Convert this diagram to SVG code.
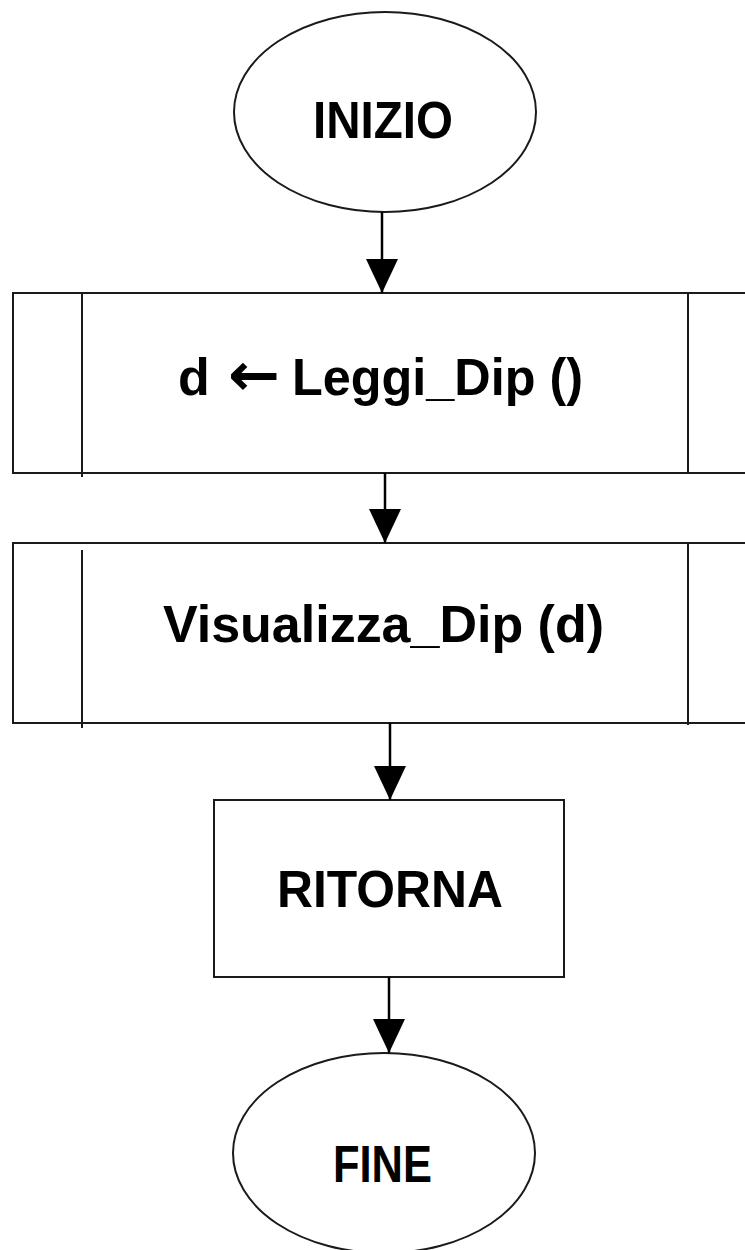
<svg xmlns="http://www.w3.org/2000/svg" width="745" height="1250" viewBox="0 0 745 1250">
<style>
.shape{fill:#fff;stroke:#1a1a1a;stroke-width:2}
.line{fill:none;stroke:#1a1a1a;stroke-width:2}
.lbl{font-family:"Liberation Sans",Arial,"DejaVu Sans",sans-serif;font-weight:bold;font-size:52px;fill:#000}
.sym{font-family:"DejaVu Sans",sans-serif;font-weight:bold;font-size:60px}
.conn{fill:none;stroke:#000;stroke-width:2.5}
</style>
<defs>
<marker id="arr" markerUnits="userSpaceOnUse" markerWidth="34" markerHeight="32" refX="34" refY="16" orient="auto">
<path d="M0,0 L34,16 L0,32 z" fill="#000"/>
</marker>
</defs>
<rect width="745" height="1250" fill="#fff"/>
<g id="inizio">
<ellipse class="shape" cx="385" cy="112" rx="151" ry="100"/>
<text class="lbl" x="313" y="138" textLength="140" lengthAdjust="spacingAndGlyphs">INIZIO</text>
</g>
<g id="leggi">
<rect class="shape" x="13" y="293" width="760" height="180"/>
<line class="line" x1="82" y1="293" x2="82" y2="477"/>
<line class="line" x1="688" y1="293" x2="688" y2="473"/>
<text class="lbl" x="178" y="395">d</text>
<text class="lbl sym" x="228" y="395" textLength="52" lengthAdjust="spacingAndGlyphs">←</text>
<text class="lbl" x="292" y="395" textLength="291" lengthAdjust="spacingAndGlyphs">Leggi_Dip ()</text>
</g>
<g id="visualizza">
<rect class="shape" x="13" y="543" width="760" height="180"/>
<line class="line" x1="82" y1="550" x2="82" y2="728"/>
<line class="line" x1="688" y1="543" x2="688" y2="725"/>
<text class="lbl" x="163" y="642" textLength="441" lengthAdjust="spacingAndGlyphs">Visualizza_Dip (d)</text>
</g>
<g id="ritorna">
<rect class="shape" x="214" y="800" width="350" height="177"/>
<text class="lbl" x="277" y="907" textLength="226" lengthAdjust="spacingAndGlyphs">RITORNA</text>
</g>
<g id="fine">
<ellipse class="shape" cx="384" cy="1153" rx="151" ry="100"/>
<text class="lbl" x="333" y="1182" textLength="99" lengthAdjust="spacingAndGlyphs">FINE</text>
</g>
<g id="connectors">
<line class="conn" x1="382" y1="212" x2="382" y2="293" marker-end="url(#arr)"/>
<line class="conn" x1="385" y1="473" x2="385" y2="543" marker-end="url(#arr)"/>
<line class="conn" x1="390" y1="723" x2="390" y2="800" marker-end="url(#arr)"/>
<line class="conn" x1="389" y1="977" x2="389" y2="1053" marker-end="url(#arr)"/>
</g>
</svg>
